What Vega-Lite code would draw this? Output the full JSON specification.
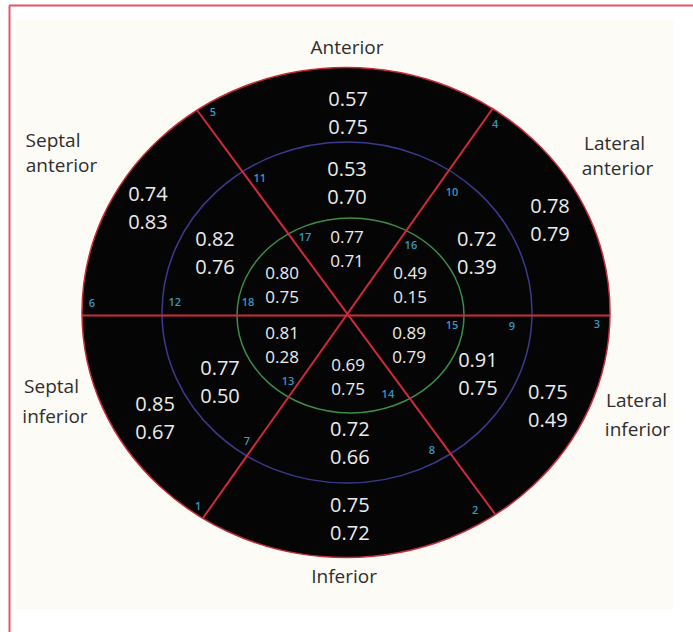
{
  "$schema": "https://vega.github.io/schema/vega-lite/v6.json",
  "width": 693,
  "height": 632,
  "autosize": "none",
  "padding": 0,
  "background": "#ffffff",
  "config": {"view": {"stroke": null}},
  "datasets": {
    "panel": [{"u": -1.2538, "v": 1.2, "u2": 1.2348, "v2": -1.204}],
    "frame": [
      {"u": -1.2803, "v": 1.2592, "u2": 1.3106, "v2": 1.2592},
      {"u": -1.2784, "v": 1.2592, "u2": -1.2784, "v2": -1.298}
    ],
    "rings": [
      {"ring": "outer", "u": -0.0038, "v": 0.0061},
      {"ring": "middle", "u": 0.0, "v": 0.0061},
      {"ring": "inner", "u": 0.0133, "v": -0.0061}
    ],
    "spokes": [
      {"u": -1.0038, "v": -0.006, "u2": 0.9962, "v2": -0.006},
      {"u": -0.5682, "v": 0.8327, "u2": 0.5606, "v2": -0.8163},
      {"u": 0.553, "v": 0.8408, "u2": -0.5455, "v2": -0.8327}
    ],
    "values": [
      {"ring": "outer", "wall": "Anterior", "a": "0.57", "b": "0.75", "u": 0.004, "v": 0.818},
      {"ring": "outer", "wall": "Septal anterior", "a": "0.74", "b": "0.83", "u": -0.754, "v": 0.429},
      {"ring": "outer", "wall": "Lateral anterior", "a": "0.78", "b": "0.79", "u": 0.769, "v": 0.38},
      {"ring": "outer", "wall": "Septal inferior", "a": "0.85", "b": "0.67", "u": -0.727, "v": -0.429},
      {"ring": "outer", "wall": "Lateral inferior", "a": "0.75", "b": "0.49", "u": 0.761, "v": -0.38},
      {"ring": "outer", "wall": "Inferior", "a": "0.75", "b": "0.72", "u": 0.011, "v": -0.841},
      {"ring": "middle", "wall": "Anterior", "a": "0.53", "b": "0.70", "u": 0.0, "v": 0.531},
      {"ring": "middle", "wall": "Septal anterior", "a": "0.82", "b": "0.76", "u": -0.5, "v": 0.245},
      {"ring": "middle", "wall": "Lateral anterior", "a": "0.72", "b": "0.39", "u": 0.492, "v": 0.245},
      {"ring": "middle", "wall": "Septal inferior", "a": "0.77", "b": "0.50", "u": -0.481, "v": -0.282},
      {"ring": "middle", "wall": "Lateral inferior", "a": "0.91", "b": "0.75", "u": 0.496, "v": -0.249},
      {"ring": "middle", "wall": "Inferior", "a": "0.72", "b": "0.66", "u": 0.011, "v": -0.531},
      {"ring": "inner", "wall": "Anterior", "a": "0.77", "b": "0.71", "u": 0.0, "v": 0.261},
      {"ring": "inner", "wall": "Septal anterior", "a": "0.80", "b": "0.75", "u": -0.246, "v": 0.114},
      {"ring": "inner", "wall": "Lateral anterior", "a": "0.49", "b": "0.15", "u": 0.239, "v": 0.114},
      {"ring": "inner", "wall": "Septal inferior", "a": "0.81", "b": "0.28", "u": -0.246, "v": -0.131},
      {"ring": "inner", "wall": "Lateral inferior", "a": "0.89", "b": "0.79", "u": 0.235, "v": -0.131},
      {"ring": "inner", "wall": "Inferior", "a": "0.69", "b": "0.75", "u": 0.004, "v": -0.261}
    ],
    "numbers": [
      {"n": "1", "u": -0.564, "v": -0.788},
      {"n": "2", "u": 0.485, "v": -0.804},
      {"n": "3", "u": 0.947, "v": -0.045},
      {"n": "4", "u": 0.561, "v": 0.771},
      {"n": "5", "u": -0.508, "v": 0.82},
      {"n": "6", "u": -0.966, "v": 0.041},
      {"n": "7", "u": -0.379, "v": -0.522},
      {"n": "8", "u": 0.322, "v": -0.559},
      {"n": "9", "u": 0.625, "v": -0.053},
      {"n": "10", "u": 0.398, "v": 0.494},
      {"n": "11", "u": -0.33, "v": 0.551},
      {"n": "12", "u": -0.652, "v": 0.045},
      {"n": "13", "u": -0.223, "v": -0.278},
      {"n": "14", "u": 0.155, "v": -0.331},
      {"n": "15", "u": 0.398, "v": -0.049},
      {"n": "16", "u": 0.242, "v": 0.278},
      {"n": "17", "u": -0.159, "v": 0.31},
      {"n": "18", "u": -0.375, "v": 0.045}
    ],
    "labels": [
      {"label": "Anterior", "u": 0.0, "v": 1.086},
      {"label": "Septal", "u": -1.1136, "v": 0.706},
      {"label": "anterior", "u": -1.0814, "v": 0.604},
      {"label": "Lateral", "u": 1.0133, "v": 0.694},
      {"label": "anterior", "u": 1.0246, "v": 0.592},
      {"label": "Septal", "u": -1.1193, "v": -0.298},
      {"label": "inferior", "u": -1.1061, "v": -0.42},
      {"label": "Lateral", "u": 1.0966, "v": -0.355},
      {"label": "inferior", "u": 1.1004, "v": -0.473},
      {"label": "Inferior", "u": -0.011, "v": -1.073}
    ]
  },
  "encoding": {
    "x": {"field": "u", "type": "quantitative", "scale": {"domain": [-1.3144, 1.3106], "nice": false, "zero": false}, "axis": null},
    "y": {"field": "v", "type": "quantitative", "scale": {"domain": [-1.298, 1.2816], "nice": false, "zero": false}, "axis": null}
  },
  "layer": [
    {
      "data": {"name": "panel"},
      "mark": {"type": "rect", "fill": "#fdfbf5"},
      "encoding": {"x2": {"field": "u2"}, "y2": {"field": "v2"}}
    },
    {
      "data": {"name": "frame"},
      "mark": {"type": "rule", "stroke": "#e3566d", "strokeWidth": 2},
      "encoding": {"x2": {"field": "u2"}, "y2": {"field": "v2"}}
    },
    {
      "data": {"name": "rings"},
      "transform": [{"filter": "datum.ring === 'outer'"}],
      "mark": {"type": "point", "filled": true, "opacity": 1, "fill": "#050505", "stroke": "#c42a3a", "strokeWidth": 1.5, "size": 278784,
        "shape": "M -1 0 C -1 -0.5125 -0.5523 -0.928 0 -0.928 C 0.5523 -0.928 1 -0.5125 1 0 C 1 0.5125 0.5523 0.928 0 0.928 C -0.5523 0.928 -1 0.5125 -1 0 Z"}
    },
    {
      "data": {"name": "rings"},
      "transform": [{"filter": "datum.ring === 'middle'"}],
      "mark": {"type": "point", "filled": false, "opacity": 1, "stroke": "#3c3a8e", "strokeWidth": 1.5, "size": 136900,
        "shape": "M -1 0 C -1 -0.5092 -0.5523 -0.922 0 -0.922 C 0.5523 -0.922 1 -0.5092 1 0 C 1 0.5092 0.5523 0.922 0 0.922 C -0.5523 0.922 -1 0.5092 -1 0 Z"}
    },
    {
      "data": {"name": "rings"},
      "transform": [{"filter": "datum.ring === 'inner'"}],
      "mark": {"type": "point", "filled": false, "opacity": 1, "stroke": "#3e8c4a", "strokeWidth": 1.5, "size": 51529,
        "shape": "M -1 0 C -1 -0.4744 -0.5523 -0.859 0 -0.859 C 0.5523 -0.859 1 -0.4744 1 0 C 1 0.4744 0.5523 0.859 0 0.859 C -0.5523 0.859 -1 0.4744 -1 0 Z"}
    },
    {
      "data": {"name": "spokes"},
      "mark": {"type": "rule", "stroke": "#d02a3b", "strokeWidth": 2},
      "encoding": {"x2": {"field": "u2"}, "y2": {"field": "v2"}}
    },
    {
      "data": {"name": "values"},
      "transform": [{"filter": "datum.ring !== 'inner'"}],
      "mark": {"type": "text", "font": "Open Sans", "fontSize": 20, "color": "#ececec", "align": "center", "baseline": "middle", "dy": -14},
      "encoding": {"text": {"field": "a"}}
    },
    {
      "data": {"name": "values"},
      "transform": [{"filter": "datum.ring !== 'inner'"}],
      "mark": {"type": "text", "font": "Open Sans", "fontSize": 20, "color": "#ececec", "align": "center", "baseline": "middle", "dy": 14},
      "encoding": {"text": {"field": "b"}}
    },
    {
      "data": {"name": "values"},
      "transform": [{"filter": "datum.ring === 'inner'"}],
      "mark": {"type": "text", "font": "Open Sans", "fontSize": 17, "color": "#ececec", "align": "center", "baseline": "middle", "dy": -12},
      "encoding": {"text": {"field": "a"}}
    },
    {
      "data": {"name": "values"},
      "transform": [{"filter": "datum.ring === 'inner'"}],
      "mark": {"type": "text", "font": "Open Sans", "fontSize": 17, "color": "#ececec", "align": "center", "baseline": "middle", "dy": 12},
      "encoding": {"text": {"field": "b"}}
    },
    {
      "data": {"name": "numbers"},
      "mark": {"type": "text", "font": "Open Sans", "fontSize": 11, "fontWeight": 600, "color": "#3598c0", "align": "center", "baseline": "middle"},
      "encoding": {"text": {"field": "n"}}
    },
    {
      "data": {"name": "labels"},
      "mark": {"type": "text", "font": "Open Sans", "fontSize": 19, "color": "#2e2e2e", "align": "center", "baseline": "middle"},
      "encoding": {"text": {"field": "label"}}
    }
  ]
}
